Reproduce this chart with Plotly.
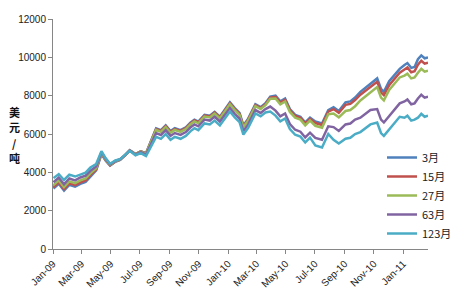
import plotly.graph_objects as go

dates = ["2009-01-02","2009-01-13","2009-01-24","2009-02-04","2009-02-16","2009-02-27","2009-03-10","2009-03-20",
         "2009-04-01","2009-04-12","2009-04-21","2009-04-30","2009-05-11","2009-05-21","2009-06-01","2009-06-10",
         "2009-06-22","2009-07-03","2009-07-14","2009-07-25","2009-08-04","2009-08-14","2009-08-24","2009-09-03",
         "2009-09-12","2009-09-24","2009-10-05","2009-10-15","2009-10-23","2009-10-31","2009-11-13","2009-11-24",
         "2009-12-04","2009-12-15","2009-12-24","2010-01-05","2010-01-15","2010-01-25","2010-02-02","2010-02-12",
         "2010-02-27","2010-03-10","2010-03-20","2010-03-30","2010-04-10","2010-04-20","2010-04-30","2010-05-10",
         "2010-05-21","2010-06-01","2010-06-11","2010-06-21","2010-07-02","2010-07-16","2010-07-29","2010-08-09",
         "2010-08-20","2010-09-03","2010-09-13","2010-09-23","2010-10-04","2010-10-14","2010-10-25","2010-11-08",
         "2010-11-16","2010-11-22","2010-12-03","2010-12-14","2010-12-25","2011-01-04","2011-01-10","2011-01-18",
         "2011-01-25","2011-02-01","2011-02-08","2011-02-15","2011-02-22"]

m3 = [3150,3400,3050,3350,3250,3400,3500,3800,4100,4950,4600,4350,4550,4650,4900,5150,
      4950,5100,5000,5700,6300,6200,6450,6150,6300,6200,6350,6600,6750,6650,7000,6950,
      7150,6900,7200,7650,7350,7100,6450,6800,7550,7400,7600,7950,8000,7700,7850,7300,
      7000,6900,6600,6850,6650,6550,7250,7400,7200,7650,7700,7900,8200,8400,8600,8900,
      8350,8200,8750,9100,9400,9600,9700,9450,9500,9900,10100,9950,10000]

m15 = [3230,3480,3130,3430,3330,3480,3580,3870,4150,4980,4630,4370,4570,4660,4900,5150,
       4950,5090,4990,5680,6260,6160,6410,6110,6260,6160,6310,6560,6710,6610,6960,6910,
       7110,6860,7160,7600,7300,7050,6400,6750,7500,7350,7550,7900,7940,7640,7790,7240,
       6940,6840,6540,6790,6570,6470,7170,7300,7100,7520,7570,7770,8050,8250,8450,8720,
       8170,8020,8550,8900,9200,9370,9470,9220,9270,9620,9820,9670,9720]

m27 = [3330,3580,3230,3530,3430,3580,3680,3950,4210,5010,4650,4390,4580,4670,4910,5150,
       4940,5080,4970,5650,6210,6110,6360,6060,6210,6110,6260,6510,6660,6560,6910,6860,
       7060,6810,7110,7550,7250,7000,6350,6700,7450,7300,7500,7840,7850,7550,7700,7150,
       6850,6750,6450,6700,6430,6330,7030,7070,6870,7200,7250,7450,7750,7950,8150,8450,
       7900,7750,8300,8650,8950,9050,9150,8900,8950,9200,9400,9250,9300]

m63 = [3480,3730,3380,3680,3580,3730,3830,4080,4300,5050,4690,4420,4600,4680,4910,5140,
       4920,5050,4920,5550,6050,5950,6200,5900,6050,5950,6100,6350,6500,6400,6750,6700,
       6900,6650,6950,7350,7050,6800,6150,6500,7250,7100,7300,7430,7220,6920,7070,6520,
       6220,6120,5820,6070,5800,5700,6400,6360,6160,6500,6550,6750,6850,7050,7250,7300,
       6750,6600,6950,7300,7600,7700,7800,7550,7600,7850,8050,7900,7950]

m123 = [3700,3900,3600,3880,3780,3900,3980,4250,4430,5100,4730,4450,4620,4690,4910,5120,
        4890,5000,4850,5420,5850,5750,6000,5700,5850,5750,5900,6150,6300,6200,6550,6500,
        6700,6450,6750,7170,6870,6620,5970,6320,7070,6920,7120,7170,6960,6660,6810,6260,
        5960,5860,5560,5810,5400,5300,6000,5700,5500,5750,5800,6000,6100,6300,6500,6600,
        6050,5900,6250,6600,6900,6850,6950,6700,6750,6850,7050,6900,6950]

series_names = ["3月", "15月", "27月", "63月", "123月"]
series_vals = [m3, m15, m27, m63, m123]
colors = ["#4F81BD", "#C0504D", "#9BBB59", "#8064A2", "#4BACC6"]

tick_dates = ["2009-01-01","2009-03-01","2009-05-01","2009-07-01","2009-09-01","2009-11-01",
              "2010-01-01","2010-03-01","2010-05-01","2010-07-01","2010-09-01","2010-11-01","2011-01-01"]
tick_text = ["Jan-09","Mar-09","May-09","Jul-09","Sep-09","Nov-09",
             "Jan-10","Mar-10","May-10","Jul-10","Sep-10","Nov-10","Jan-11"]

y_title_chars = ["美", "元", "/", "吨"]

fig = go.Figure()
for name, vals, c in zip(series_names, series_vals, colors):
    fig.add_trace(go.Scatter(x=dates, y=vals, name=name, mode="lines",
                             line=dict(color=c, width=2.5)))

font_main = "Liberation Sans, Arial, sans-serif"

annots = []
for i, ch in enumerate(y_title_chars):
    annots.append(dict(text="<b>" + ch + "</b>", xref="paper", yref="paper",
                       x=(14 - 53) / 375, y=(249 - (112 + i * 15.3)) / 230,
                       xanchor="center", yanchor="middle", showarrow=False, borderpad=0,
                       font=dict(family="Noto Sans CJK SC", size=11, color="#111")))

fig.update_layout(
    width=450, height=300,
    margin=dict(l=53, r=22, t=19, b=51, autoexpand=False),
    plot_bgcolor="white", paper_bgcolor="white",
    showlegend=True,
    legend=dict(xref="container", yref="container", x=382/450, y=1 - 143/300,
                xanchor="left", yanchor="top",
                font=dict(family="Noto Sans CJK SC, Liberation Sans", size=11, color="#222"),
                bgcolor="rgba(0,0,0,0)", itemwidth=30, tracegroupgap=0),
    xaxis=dict(type="date", range=["2009-01-01", "2011-02-22"],
               tickvals=tick_dates, ticktext=tick_text, tickangle=-45,
               showgrid=False, showline=True, linecolor="#868686", linewidth=1,
               ticks="outside", ticklen=4, tickcolor="#868686",
               tickfont=dict(family=font_main, size=10, color="#222"), zeroline=False),
    yaxis=dict(range=[0, 12000], dtick=2000, tickformat="d", showgrid=False, showline=True,
               linecolor="#868686", linewidth=1, ticks="outside", ticklen=4,
               tickcolor="#868686", tickfont=dict(family=font_main, size=10, color="#222"),
               zeroline=False),
    annotations=annots,
)

fig.write_html("out.html")
